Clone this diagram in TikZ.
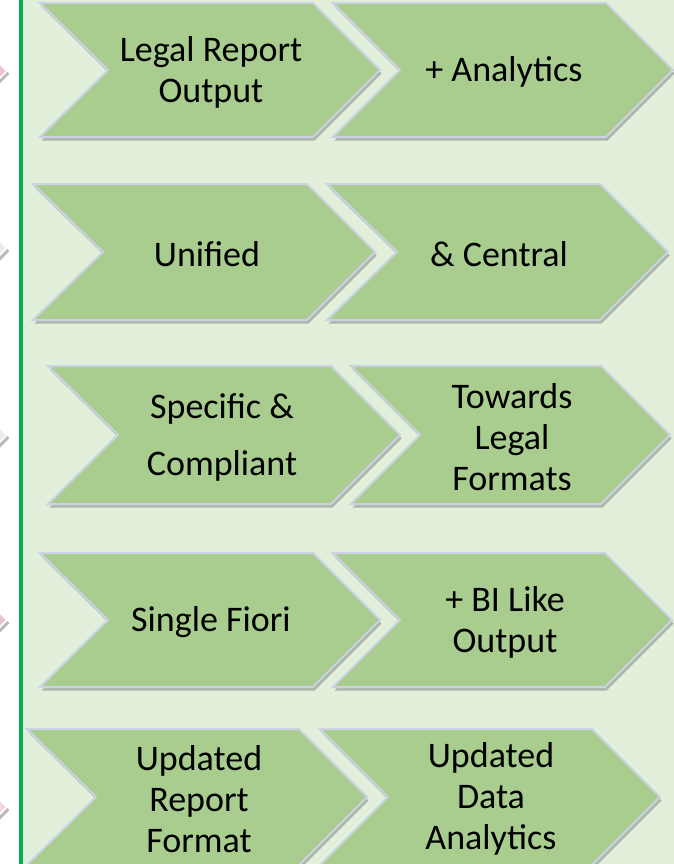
\documentclass[tikz,border=0pt]{standalone}
\usepackage{fontspec}
\setmainfont{Carlito}
\usetikzlibrary{shadows}
\definecolor{bgpanel}{RGB}{226,239,218}
\definecolor{chevfill}{RGB}{169,205,142}
\definecolor{chevedge}{RGB}{202,210,228}
\definecolor{panelline}{RGB}{0,176,80}
\definecolor{tippink}{RGB}{238,196,206}
\definecolor{tipgrey}{RGB}{236,236,240}
\tikzset{
  chevshape/.style={fill=chevfill, draw=chevedge, line width=2pt, line join=miter,
    drop shadow={opacity=0.35, shadow xshift=1.5pt, shadow yshift=-3.5pt, fill=black!70}},
  chevtext/.style={align=center, font=\fontsize{36}{41}\selectfont, text=black, inner sep=0pt},
  lefttip/.style={draw=white, line width=1.5pt,
    drop shadow={opacity=0.45, shadow xshift=2.5pt, shadow yshift=-3pt, fill=black!60}}
}
% #1 left x, #2 notch x, #3 tip x, #4 centre y, #5 half height
\newcommand\chevpath[5]{%
  \path[chevshape] (#1,#4-#5) -- (#3-#5,#4-#5) -- (#3,#4) -- (#3-#5,#4+#5) -- (#1,#4+#5) -- (#2,#4) -- cycle;}
\begin{document}
\begin{tikzpicture}[x=1pt,y=-1pt]
\useasboundingbox (0,0) rectangle (674,864);
% panel background and left rule
\fill[bgpanel] (22,-5) rectangle (680,870);
\fill[panelline] (19,-5) rectangle (23,870);
% partial tips of the arrows on the left
\path[lefttip, fill=tippink] (-14,50) -- (7,71) -- (-14,92) -- cycle;
\path[lefttip, fill=tipgrey] (-14,227) -- (7,248) -- (-14,269) -- cycle;
\path[lefttip, fill=tipgrey] (-14,414) -- (7,435) -- (-14,456) -- cycle;
\path[lefttip, fill=tippink] (-14,599) -- (7,620) -- (-14,641) -- cycle;
\path[lefttip, fill=tippink!70!white] (-14,786) -- (7,807) -- (-14,828) -- cycle;
% row 1
\chevpath{40}{108}{380}{70}{67}
\chevpath{333}{400}{673}{70}{67}
\node[chevtext] (r1a) at (211,72) {Legal Report\\Output};
\node[chevtext] (r1b) at (504,72) {+ Analytics};
% row 2
\chevpath{33}{103}{375}{252}{68}
\chevpath{327}{397}{668}{252}{68}
\node[chevtext] (r2a) at (207,254) {Unified};
\node[chevtext] (r2b) at (499,254) {\& Central};
% row 3
\chevpath{48}{118}{400}{435}{69}
\chevpath{351}{420}{670}{435}{69}
\node[chevtext] (r3a) at (222,437) {Specific \&\\[16pt]Compliant};
\node[chevtext] (r3b) at (512,437) {Towards\\Legal\\Formats};
% row 4
\chevpath{40}{108}{380}{620}{67}
\chevpath{333}{400}{672}{620}{67}
\node[chevtext] (r4a) at (211,622) {Single Fiori};
\node[chevtext] (r4b) at (505,622) {+ BI Like\\Output};
% row 5
\chevpath{27}{96}{367}{797}{68}
\chevpath{320}{388}{660}{797}{68}
\node[chevtext] (r5a) at (199,799) {Updated\\Report\\Format};
\node[chevtext] (r5b) at (491,799) {Updated\\Data\\Analytics};
\end{tikzpicture}
\end{document}
